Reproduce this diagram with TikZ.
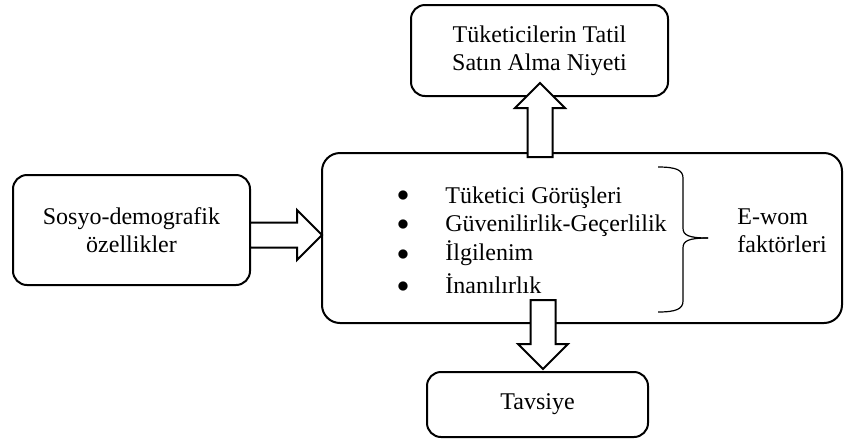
\documentclass[tikz,border=0pt]{standalone}
\usepackage{fontspec}
\setmainfont{Liberation Serif}
\usepackage{tikz}
\usetikzlibrary{calc, positioning}

% block arrow between two named points
\newcommand{\blockarrow}[2]{%
  \coordinate (hb) at ($(#2)!12.5pt!(#1)$);
  \draw[blockarr] ($(#1)!6.25pt!90:(#2)$) -- ($(hb)!6.25pt!-90:(#1)$)
    -- ($(hb)!12.5pt!-90:(#1)$) -- (#2) -- ($(hb)!12.5pt!90:(#1)$)
    -- ($(hb)!6.25pt!90:(#1)$) -- ($(#1)!6.25pt!-90:(#2)$) -- cycle;}

\begin{document}
\begin{tikzpicture}[x=0.5pt, y=-0.5pt, font=\fontsize{12}{14}\selectfont,
    box/.style={draw, line width=1pt, rounded corners=7pt, align=center, inner sep=0pt},
    blockarr/.style={draw, fill=white, line width=1pt, line join=miter},
    bracepath/.style={line width=0.6pt}]
          \useasboundingbox (0,0) rectangle (857,441);

          \node[box, minimum width=128.5pt, minimum height=45.5pt] (niyet) at (539.5,50.5) {Tüketicilerin Tatil\\Satın Alma Niyeti};
          \node[box, minimum width=118.5pt, minimum height=55pt] (sosyo) at (131.5,230) {Sosyo-demografik\\özellikler};
          \node[box, rounded corners=9pt, minimum width=260pt, minimum height=85pt] (ewom) at (582,238) {};
          \node[box, minimum width=110.5pt, minimum height=32.5pt] (tavsiye) at (537.5,404.5) {Tavsiye};

          \node (b1) at (403,196) {$\bullet$};
          \node (b2) at (403,225) {$\bullet$};
          \node (b3) at (403,255) {$\bullet$};
          \node (b4) at (403,287) {$\bullet$};
          \node[anchor=base west, inner sep=0pt] (gorus) at (445,203) {Tüketici Görüşleri};
          \node[anchor=base west, inner sep=0pt] (guven) at (445,231) {Güvenilirlik-Geçerlilik};
          \node[anchor=base west, inner sep=0pt] (ilgi) at (445,260) {İlgilenim};
          \node[anchor=base west, inner sep=0pt] (inan) at (445,293) {İnanılırlık};

          \draw[bracepath] (658,167) .. controls (676,167) and (683,170) .. (683,178) -- (683,228)
                .. controls (683,235) and (688,238) .. (708,238);
          \draw[bracepath] (658,312) .. controls (676,312) and (683,309) .. (683,301) -- (683,248)
                .. controls (683,241) and (688,238) .. (708,238);
          \node[anchor=west, align=left, inner sep=0pt] (faktor) at (737,231) {E-wom\\faktörleri};

          \coordinate (upfrom) at (540,157);
          \coordinate (upto) at (540,83);
          \coordinate (rightfrom) at (250,235);
          \coordinate (rightto) at (322,235);
          \coordinate (downfrom) at (543,300);
          \coordinate (downto) at (543,369);

          \blockarrow{upfrom}{upto}
          \blockarrow{rightfrom}{rightto}
          \blockarrow{downfrom}{downto}
        \end{tikzpicture}
\end{document}
